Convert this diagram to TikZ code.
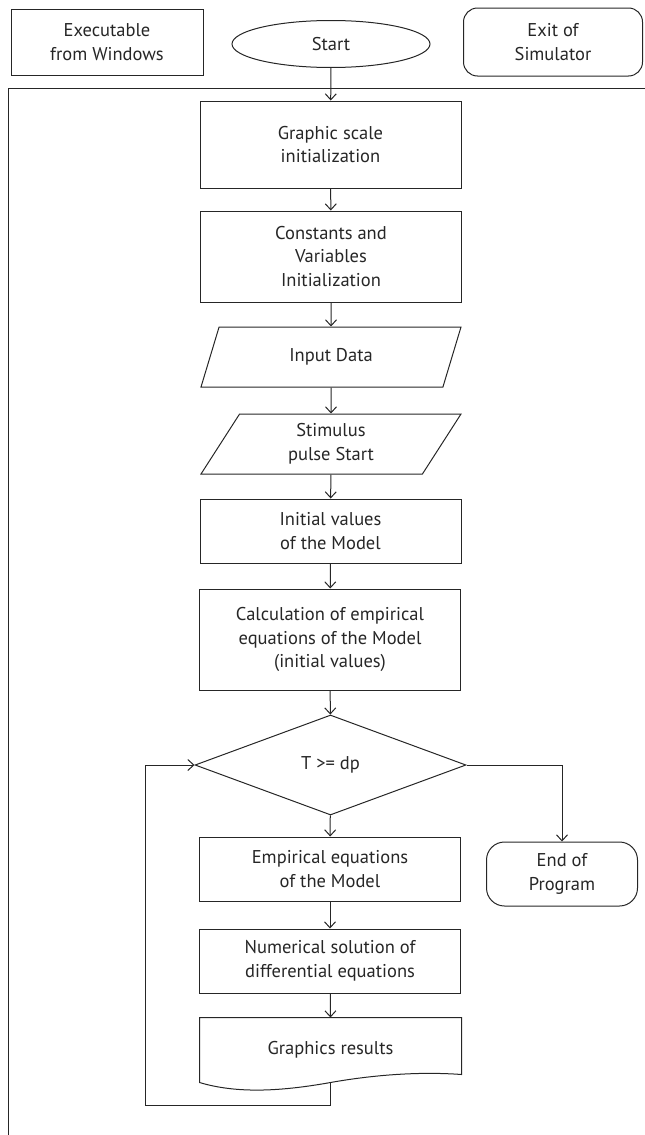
\documentclass[tikz,border=0pt]{standalone}
\usepackage{fontspec}
\setmainfont{PT Sans}
\usetikzlibrary{shapes.geometric,arrows.meta,calc}
\tikzset{
  procbox/.style={draw, rectangle, minimum width=261pt, minimum height=64pt, align=center, inner sep=2pt},
  iobox/.style={draw, trapezium, trapezium left angle=49, trapezium right angle=131, trapezium stretches body,
    minimum width=260pt, minimum height=60pt, align=center, inner sep=2pt},
  termbox/.style={draw, rounded corners=14pt, rectangle, align=center},
  flowarr/.style={-{Straight Barb[length=6pt,width=11pt]}},
}
\begin{document}
\begin{tikzpicture}[x=1pt, y=-1pt, line width=1pt, font=\fontsize{18.5}{23.5}\selectfont, color={black!85}]
\useasboundingbox (0,0) rectangle (645,1135);
\begin{scope}[every node/.style={}]
  \node[draw, rectangle, minimum width=192pt, minimum height=66pt, align=center] (exe) at (107,42) {Executable\\from Windows};
  \node[draw, ellipse, minimum width=198pt, minimum height=47pt, inner sep=0pt] (start) at (331,44) {Start};
  \node[termbox, minimum width=179pt, minimum height=68pt] (exit) at (553,42) {Exit of\\Simulator};
\end{scope}
% frame round the program
\draw (645,88) -- (8,88) -- (8,1135);
\begin{scope}[every node/.style={procbox}]
  \node[minimum height=87pt] (scale) at (330.5,144.5) {Graphic scale\\initialization};
  \node[minimum height=91pt] (consts) at (331,256.5) {Constants and\\Variables\\Initialization};
  \node[iobox] (input) at (331,357) {Input Data};
  \node[iobox] (stim) at (331,444) {Stimulus\\pulse Start};
  \node (initv) at (330.5,531) {Initial values\\of the Model};
  \node[minimum height=101pt] (calc) at (330,639.5) {Calculation of empirical\\equations of the Model\\(initial values)};
  \node[draw, diamond, minimum width=271pt, minimum height=100pt, inner sep=0pt] (test) at (330.5,765) {T >= dp};
  \node (emp) at (330,869) {Empirical equations\\of the Model};
  \node (num) at (330,961) {Numerical solution of\\differential equations};
  \node[draw=none] (graph) at (330.5,1050) {Graphics results};
\end{scope}
\node[termbox, rounded corners=18pt, minimum width=151pt, minimum height=64pt] (endp) at (562,874) {End of\\Program};
% document shape with wavy bottom
\draw (graph.north west) -- (graph.north east) -- ($(graph.south east)+(0,-8)$)
  .. controls ($(graph.south east)+(-40,-11)$) and ($(graph.south)+(45,-8)$) .. (graph.south)
  .. controls ($(graph.south)+(-45,8)$) and ($(graph.south west)+(40,12)$) .. (graph.south west) -- cycle;
\coordinate (loopc) at (145,1105);
\begin{scope}[every edge/.style={draw, flowarr}]
  \path (start) edge (scale);
  \path (scale) edge (consts);
  \path (consts) edge (input);
  \path (input) edge (stim);
  \path (stim) edge (initv);
  \path (initv) edge (calc);
  \path (calc) edge (test);
  \path (test) edge (emp);
  \path (emp) edge (num);
  \path (num) edge (graph.north);
\end{scope}
\draw (graph.south) |- (loopc);
\draw[flowarr] (loopc) |- (test.west);
\draw[flowarr] (test.east) -| (endp.north);
\end{tikzpicture}
\end{document}
